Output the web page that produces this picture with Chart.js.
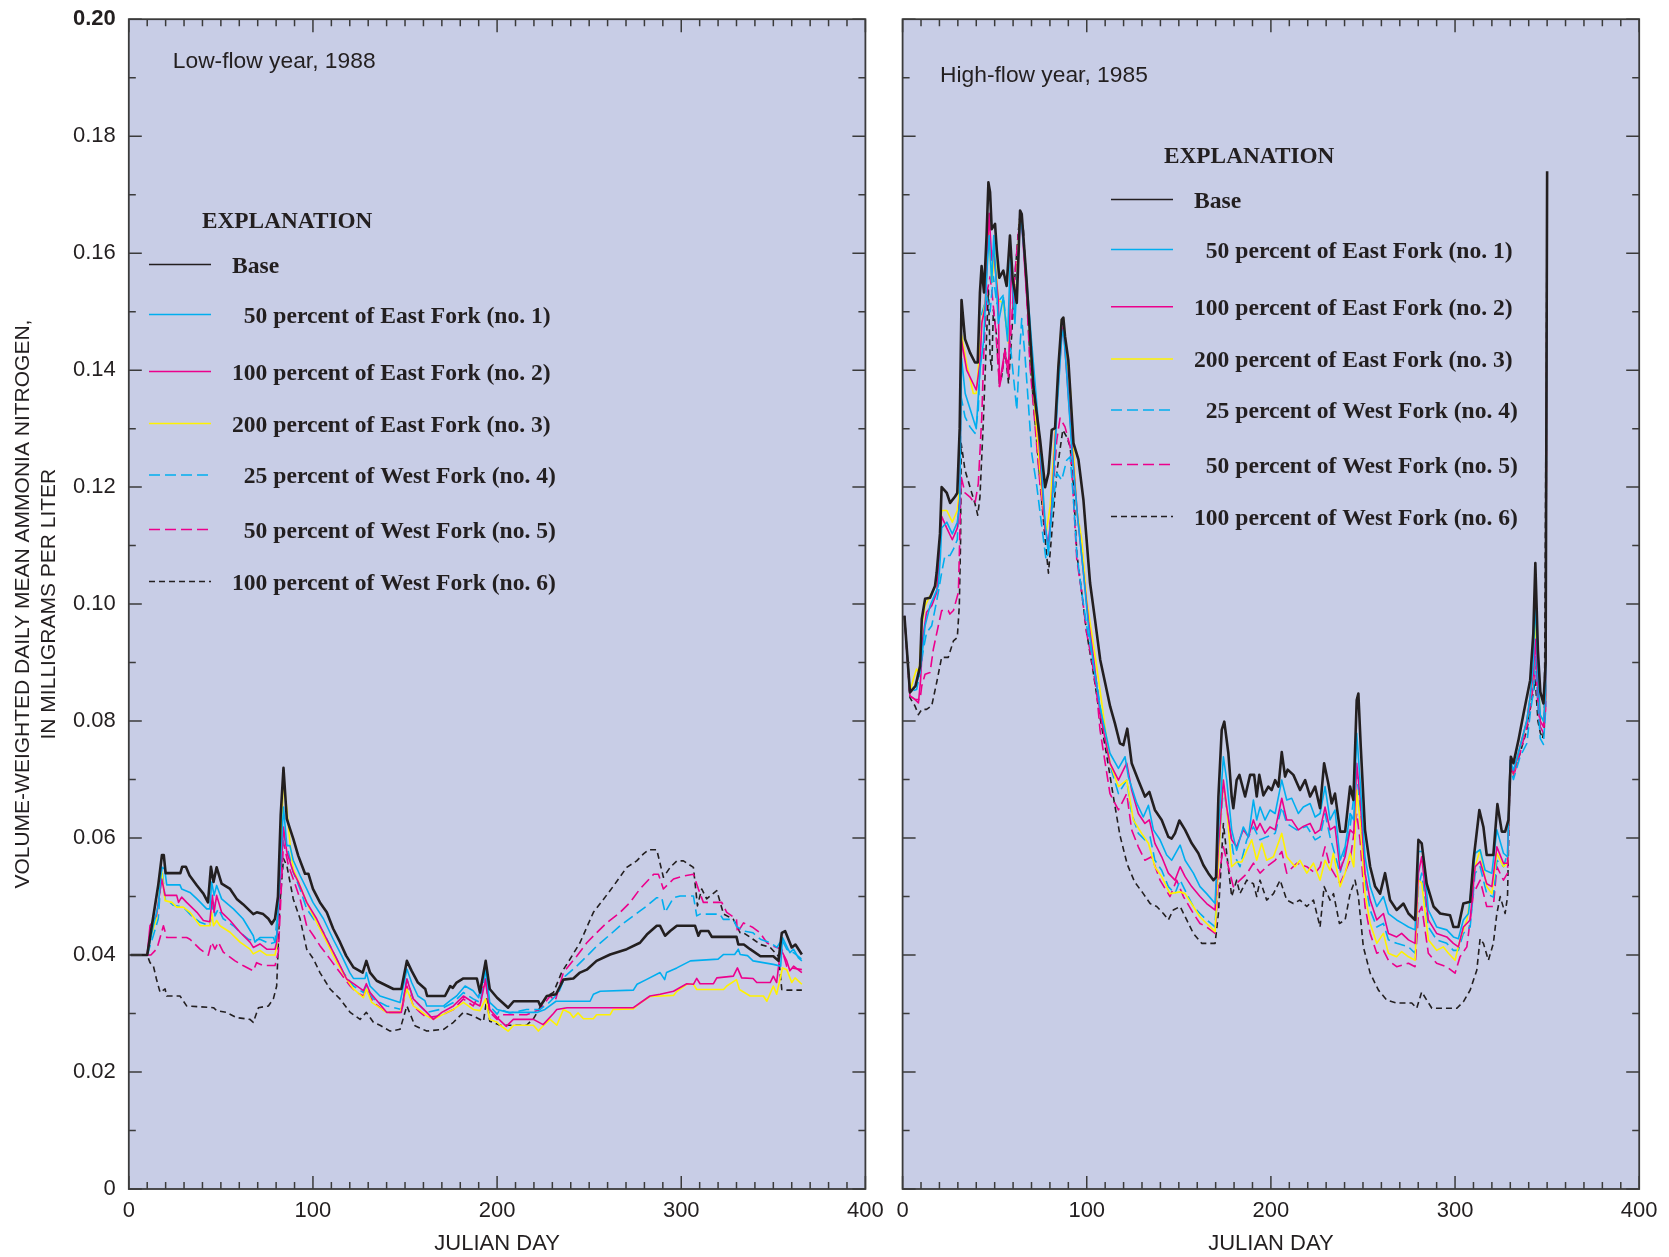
<!DOCTYPE html>
<html>
<head>
<meta charset="utf-8">
<script src="https://cdn.jsdelivr.net/npm/chart.js"></script>
<style>
  html, body { margin: 0; padding: 0; background: #fff; }
  #wrap { position: relative; width: 1669px; height: 1257px; }
  canvas { position: absolute; top: 0; }
  #left { left: 0; }
  #right { left: 890px; }
</style>
</head>
<body>
<div id="wrap">
  <canvas id="left" width="890" height="1257"></canvas>
  <canvas id="right" width="779" height="1257"></canvas>
</div>
<script>
// ---- series labels / axis labels ----
const seriesLabels = [
  'Base',
  '50 percent of East Fork (no. 1)',
  '100 percent of East Fork (no. 2)',
  '200 percent of East Fork (no. 3)',
  '25 percent of West Fork (no. 4)',
  '50 percent of West Fork (no. 5)',
  '100 percent of West Fork (no. 6)'
];
const dayTicks = [0, 100, 200, 300, 400];
const concTicks = [0, 0.02, 0.04, 0.06, 0.08, 0.10, 0.12, 0.14, 0.16, 0.18, 0.20];
const concLabels = ['0', '0.02', '0.04', '0.06', '0.08', '0.10', '0.12', '0.14', '0.16', '0.18', '0.20'];

// ---- low-flow year 1988: [julian day, mg/L] ----
const low_base = [[1,0.040],[10,0.040],[13,0.046],[16,0.052],[18,0.0571],[19,0.0571],[20,0.054],[28,0.054],[29,0.0551],[31,0.0551],[33,0.0536],[37,0.0519],[40.5,0.0505],[43,0.049],[44.6,0.0551],[46,0.0525],[47.7,0.055],[50.4,0.0522],[55,0.0513],[58.6,0.0496],[62,0.0487],[67.6,0.047],[69.5,0.0473],[73,0.047],[75.8,0.0462],[77.6,0.0453],[79.4,0.0462],[81,0.05],[82.5,0.064],[84,0.072],[85.8,0.0633],[87.5,0.0616],[89.3,0.0599],[92,0.057],[95.7,0.0539],[97.5,0.0539],[100,0.0513],[103.8,0.049],[107.5,0.0473],[111,0.0445],[114.7,0.0422],[118,0.0399],[122,0.0379],[127,0.037],[129,0.039],[131,0.037],[134.6,0.0356],[143.7,0.0342],[148,0.0342],[151,0.039],[153.6,0.0373],[157,0.0353],[161,0.0342],[162,0.033],[171.7,0.033],[174.5,0.0347],[176,0.0344],[178,0.0353],[181.7,0.036],[189,0.036],[190.7,0.0336],[193.8,0.039],[196,0.0342],[200,0.0327],[206,0.031],[209,0.0321],[222.4,0.0321],[223.5,0.0313],[227,0.033],[232,0.0333],[236,0.0358],[241.4,0.036],[245,0.037],[248.7,0.0375],[254,0.039],[261.4,0.0401],[270.4,0.041],[277.6,0.0421],[281.3,0.0435],[286.7,0.045],[288.5,0.045],[291.2,0.0433],[294,0.0441],[297.6,0.045],[307.5,0.045],[309.3,0.0433],[310.5,0.0441],[314.8,0.0441],[316.6,0.0431],[330,0.0431],[331,0.0418],[334,0.0418],[337.4,0.041],[343,0.0398],[350,0.0398],[352.8,0.039],[354.6,0.0438],[356.4,0.0441],[360,0.0413],[362,0.0418],[365.5,0.0401]];
const low_ef50 = [[1,0.040],[10,0.040],[13.3,0.045],[16,0.0485],[17.9,0.055],[19.5,0.0547],[20.6,0.052],[27.8,0.052],[28.7,0.0513],[33.2,0.0507],[37,0.0496],[42.3,0.0479],[44,0.0479],[45,0.0525],[46.3,0.0502],[47.7,0.0519],[50.4,0.0496],[56.8,0.0479],[62,0.0462],[67.6,0.0433],[68.5,0.0422],[71.2,0.043],[78.5,0.043],[79.4,0.0422],[80.3,0.0433],[84,0.0653],[85.8,0.0587],[87.5,0.0587],[89.3,0.0562],[93,0.0536],[96.6,0.0513],[100,0.049],[105.7,0.0462],[111,0.0427],[115.6,0.0399],[120,0.037],[122,0.036],[128.3,0.036],[129,0.037],[131,0.0347],[136.4,0.033],[147.3,0.0319],[151,0.0376],[153.6,0.0353],[157,0.033],[160.8,0.0322],[161.8,0.0313],[171,0.0313],[174.5,0.0322],[178,0.033],[182.6,0.0347],[187,0.0339],[190,0.0327],[193.8,0.0379],[196,0.0319],[200,0.0307],[206,0.0302],[222,0.0302],[226,0.0307],[232,0.0321],[250.5,0.0321],[252.3,0.0333],[256,0.0338],[274,0.034],[276,0.035],[281,0.0358],[288.5,0.037],[291,0.0358],[292,0.037],[297.6,0.0378],[305,0.039],[320,0.0393],[323,0.0401],[329,0.0401],[331,0.041],[332,0.0401],[336,0.0399],[339,0.039],[350,0.0384],[354,0.0381],[355,0.043],[357.3,0.0415],[359,0.0404],[361,0.041],[363.6,0.0395],[365.5,0.039]];
const low_ef100 = [[1,0.040],[10,0.040],[11.5,0.045],[15,0.0467],[17.9,0.053],[19.7,0.0502],[26,0.0502],[27,0.049],[28.7,0.0499],[31.4,0.049],[37,0.0473],[40.5,0.0459],[44,0.0457],[45.4,0.0502],[46.3,0.0473],[47.7,0.0502],[50.4,0.0473],[55,0.0459],[60.4,0.0439],[65.8,0.0422],[67.6,0.0413],[71.2,0.0419],[74.9,0.041],[79.4,0.041],[80.3,0.0422],[84,0.0619],[85.8,0.0576],[89.3,0.0542],[92,0.0525],[96.6,0.049],[102,0.0462],[107.5,0.0427],[113,0.0393],[118.3,0.0359],[122,0.0351],[127.4,0.0339],[129,0.0351],[131,0.0336],[135.6,0.0319],[140,0.0302],[148,0.0302],[151,0.0359],[154.5,0.0325],[158.2,0.0313],[161.8,0.0302],[165.4,0.029],[170,0.0302],[176.3,0.0313],[181.7,0.033],[187,0.0319],[190.7,0.0313],[193.8,0.0359],[196,0.0307],[200,0.0293],[205,0.0278],[208.8,0.029],[219.7,0.029],[225,0.0281],[230.6,0.03],[232.4,0.0307],[238,0.031],[274,0.031],[277.6,0.0318],[283,0.033],[288.5,0.0333],[295.8,0.0338],[303,0.0351],[306.6,0.035],[308.4,0.036],[310.2,0.0351],[317.5,0.0351],[319.3,0.0361],[328.3,0.0364],[330.5,0.0378],[332.8,0.0361],[339,0.036],[341,0.0353],[348.3,0.0353],[350,0.0364],[351.8,0.0353],[354,0.041],[357.3,0.039],[359,0.0373],[361,0.0381],[365.5,0.037]];
const low_ef200 = [[1,0.040],[10,0.040],[11.5,0.0427],[15,0.0462],[17.9,0.0542],[19.7,0.0493],[23.4,0.049],[26,0.0482],[29.6,0.0482],[33.2,0.0473],[38.7,0.045],[44,0.045],[45,0.0473],[46,0.045],[47.7,0.0459],[49.5,0.045],[55,0.0439],[60.4,0.0422],[65.8,0.041],[67.6,0.0402],[71.2,0.0408],[74.9,0.04],[79.4,0.04],[80.3,0.0416],[84,0.0699],[85.8,0.065],[87.5,0.0593],[89.3,0.0547],[93,0.0519],[96.6,0.049],[102,0.0456],[107.5,0.0422],[113,0.0387],[118.3,0.0359],[122,0.0342],[127.4,0.0327],[129,0.0342],[131.9,0.0319],[140,0.0302],[147.3,0.0302],[151,0.0342],[154.5,0.0313],[158.2,0.0305],[161.8,0.0296],[165.4,0.029],[171,0.0299],[176.3,0.0307],[181.7,0.0319],[187,0.0307],[190.7,0.0305],[193.8,0.0325],[196,0.029],[200,0.0285],[201.6,0.028],[206,0.027],[209,0.028],[219.7,0.028],[222.4,0.027],[225,0.0279],[228.8,0.029],[232.4,0.028],[236,0.0307],[239.6,0.0301],[241.4,0.0293],[244,0.0301],[246.9,0.0291],[252.3,0.0291],[254,0.0298],[261.4,0.0298],[263,0.0307],[274,0.0308],[277.6,0.0318],[283,0.0329],[295.8,0.0331],[297.6,0.0338],[303,0.035],[306.6,0.035],[308.4,0.0341],[323,0.0341],[324.7,0.0347],[330,0.0358],[331.6,0.0341],[337.4,0.033],[344.6,0.033],[346.5,0.0321],[350,0.0347],[351.8,0.0333],[355,0.0378],[357.3,0.0375],[360,0.0353],[361.8,0.0361],[365.5,0.035]];
const low_wf25 = [[1,0.040],[10,0.040],[13.3,0.0433],[16,0.0462],[17.9,0.055],[19.7,0.0496],[22.4,0.049],[24.2,0.0485],[29.6,0.0482],[34.1,0.0467],[38.7,0.0456],[44,0.045],[46,0.049],[46.8,0.0467],[48.6,0.0479],[51.3,0.0462],[56.8,0.045],[60.4,0.0439],[65,0.0427],[67.6,0.0425],[71.2,0.0427],[76.7,0.0419],[79.4,0.0422],[84,0.0605],[85.8,0.0587],[89.3,0.0542],[93,0.0513],[96.6,0.0479],[100.3,0.0462],[105.7,0.0439],[111,0.0405],[116.5,0.037],[122,0.0347],[127.4,0.0336],[129,0.0347],[132.8,0.0325],[140,0.0313],[148,0.0307],[151,0.0359],[154.5,0.0325],[158.2,0.0313],[161.8,0.0302],[169,0.0307],[176.3,0.0319],[181.7,0.0336],[187,0.0325],[190.7,0.0319],[193.8,0.037],[196,0.0313],[200,0.0299],[201.6,0.0307],[207,0.0301],[216,0.0307],[223.3,0.0307],[228,0.0318],[233.3,0.0335],[237,0.0364],[243.2,0.0381],[248.7,0.0398],[254,0.0415],[261.4,0.0435],[266.8,0.045],[274,0.0467],[281.3,0.0484],[286.7,0.0498],[289.4,0.0498],[291.2,0.0473],[295.8,0.0498],[299.4,0.0501],[306.6,0.0501],[308.4,0.0467],[310.2,0.047],[321,0.047],[322.8,0.0461],[328.3,0.0461],[330,0.0449],[333.8,0.0441],[339,0.0438],[343,0.0427],[348.3,0.0421],[352,0.0413],[354.6,0.0427],[357.3,0.041],[361,0.0404],[365.5,0.0393]];
const low_wf50 = [[1,0.040],[10,0.040],[12,0.040],[15.3,0.0411],[18.8,0.045],[20.6,0.043],[31.4,0.043],[33.2,0.0427],[38.7,0.041],[43.2,0.04],[45,0.0422],[46.8,0.041],[48.6,0.0422],[51.3,0.0405],[57.7,0.039],[62,0.0382],[67.6,0.0373],[69.4,0.0387],[73,0.0382],[79.4,0.0382],[81.2,0.0405],[84,0.0593],[86.7,0.0553],[89.3,0.053],[93,0.0496],[96.6,0.045],[100.3,0.0433],[103.8,0.0416],[109.3,0.0393],[114.7,0.037],[120.2,0.0347],[123.8,0.0336],[127.4,0.033],[129,0.0342],[132.8,0.0319],[140,0.0302],[148,0.0302],[151,0.0347],[154.5,0.0313],[158.2,0.0302],[161.8,0.0293],[169,0.0296],[176.3,0.0307],[181.7,0.0325],[187,0.0313],[193.8,0.0353],[196,0.0302],[200,0.029],[201.6,0.0298],[216,0.0298],[223.3,0.0307],[228.8,0.033],[231.5,0.0321],[236,0.037],[243.2,0.0398],[248.7,0.0421],[254,0.0438],[259.5,0.0455],[266.8,0.0473],[272.2,0.049],[277.6,0.0513],[285,0.0538],[287.6,0.0538],[290.3,0.0513],[295.8,0.053],[301.2,0.0535],[306.6,0.0538],[309.3,0.0513],[312,0.049],[322,0.049],[324.7,0.0473],[330,0.0461],[330.5,0.0438],[333.8,0.0455],[339,0.0447],[342.8,0.0438],[346.5,0.0421],[350,0.0415],[354.6,0.041],[357.3,0.0381],[360,0.0378],[365.5,0.0375]];
const low_wf100 = [[1,0.040],[10,0.040],[11.5,0.0387],[13.3,0.0382],[15,0.0359],[17,0.0336],[19.7,0.0342],[20.6,0.033],[27.8,0.033],[31.4,0.0313],[46,0.031],[47.7,0.0305],[53,0.0302],[58.6,0.0293],[65.8,0.029],[67.6,0.0285],[70.4,0.031],[75.8,0.0313],[78.5,0.0325],[80.3,0.0347],[82,0.0485],[84,0.0565],[85.8,0.0553],[89.3,0.0496],[93,0.0462],[96.6,0.041],[100.3,0.0393],[103.8,0.037],[109.3,0.0342],[114.7,0.0325],[120.2,0.0302],[125.6,0.029],[129,0.0302],[132.8,0.0285],[136.4,0.028],[141.9,0.027],[147.3,0.0273],[151,0.0313],[155.4,0.0279],[161.8,0.027],[171,0.0273],[176.3,0.0285],[181.7,0.0302],[187,0.0296],[192.6,0.0287],[194.4,0.0325],[196,0.0287],[200,0.0282],[201.6,0.028],[216,0.028],[219.7,0.0291],[227,0.033],[230.6,0.0336],[235,0.037],[239.6,0.0393],[245,0.0421],[252.3,0.0473],[257.7,0.0495],[263.2,0.0518],[270.4,0.055],[275.8,0.0561],[279.5,0.0573],[282.2,0.058],[286.7,0.058],[290.3,0.0533],[294,0.055],[297.6,0.0561],[301.2,0.0561],[306.6,0.055],[308.8,0.0484],[311.1,0.0513],[313.8,0.0496],[319.3,0.051],[323,0.047],[328.3,0.0461],[332,0.0438],[333.8,0.0438],[339,0.0427],[343,0.0418],[348.3,0.0413],[352.8,0.0398],[354.6,0.0341],[357.3,0.034],[365.5,0.034]];

// ---- high-flow year 1985: [julian day, mg/L] ----
const high_base = [[1,0.098],[4,0.0849],[7,0.086],[9.5,0.0894],[10.4,0.0974],[12.2,0.1009],[14.9,0.1011],[17.6,0.1031],[18.5,0.1054],[20.3,0.112],[21.2,0.12],[24,0.119],[25.8,0.1173],[28.5,0.1184],[29.7,0.119],[31,0.13],[32,0.152],[33.9,0.1453],[36.6,0.143],[39.3,0.1413],[40.8,0.1413],[42,0.1533],[42.9,0.1578],[44.2,0.1533],[45.6,0.163],[46.6,0.1721],[47.5,0.1704],[48.4,0.1641],[50.2,0.165],[51.1,0.1607],[52.5,0.1558],[54.7,0.157],[56.5,0.1544],[58.3,0.163],[59.8,0.1555],[62,0.1515],[63.8,0.1673],[64.7,0.1667],[67.4,0.155],[71,0.1372],[74.7,0.128],[77.4,0.12],[79.2,0.1224],[81,0.1298],[82.8,0.1301],[84.6,0.1406],[86.4,0.1486],[87.3,0.149],[88.2,0.1458],[90,0.1417],[92.8,0.1275],[95.5,0.1247],[98.2,0.1178],[101.8,0.1036],[104.5,0.0973],[107.3,0.0905],[110,0.0865],[112.7,0.0825],[115.3,0.0796],[118,0.0762],[119.9,0.0759],[122,0.0787],[124.4,0.0728],[128,0.0699],[131.6,0.0671],[134,0.0679],[137,0.0648],[140.7,0.0631],[144.3,0.0602],[146.1,0.0599],[147.9,0.0608],[150.3,0.063],[153.4,0.0614],[157,0.0591],[160.6,0.0574],[163.3,0.0554],[166,0.054],[168.8,0.0528],[170.2,0.0533],[171.5,0.0671],[173.3,0.0785],[174.7,0.0799],[176.9,0.0745],[178.7,0.0671],[179.6,0.0651],[181.4,0.0699],[182.9,0.0708],[186,0.0671],[188.7,0.0708],[190.9,0.0708],[192.3,0.0671],[193.7,0.0708],[195.9,0.0673],[198.6,0.0688],[200.4,0.0682],[202.3,0.0699],[204.1,0.0688],[205.9,0.0747],[207.7,0.0705],[209.1,0.0717],[212.2,0.0708],[215.8,0.0682],[218.6,0.0699],[221.3,0.0671],[224,0.0688],[226.7,0.0651],[228.9,0.0728],[231.2,0.0693],[233,0.0659],[234.8,0.0676],[237.6,0.0611],[240.3,0.0611],[243,0.0688],[244.8,0.0665],[246.6,0.0836],[247.5,0.0847],[248.8,0.0756],[251.1,0.0614],[253.9,0.0551],[256.6,0.0517],[259.3,0.0505],[262,0.054],[264.7,0.0494],[268.3,0.0477],[272,0.0488],[274.7,0.0471],[278.3,0.046],[280.1,0.0597],[281.9,0.0591],[284.6,0.0522],[288.3,0.0483],[291.9,0.0471],[297.3,0.0468],[299.1,0.0448],[301.8,0.0448],[304.5,0.0488],[308.2,0.0491],[310,0.0562],[313.2,0.0648],[315.4,0.0619],[317.2,0.0571],[320.8,0.0571],[323,0.0658],[325.4,0.0611],[327.2,0.0611],[329,0.0631],[330.3,0.0739],[331.7,0.0728],[334.4,0.0767],[337.2,0.0813],[340.8,0.087],[342.5,0.095],[343.6,0.107],[345,0.092],[346.3,0.085],[348,0.083],[349.2,0.09],[350,0.174]];
const high_ef50 = [[1,0.098],[4,0.0849],[7,0.086],[9.5,0.0883],[10.9,0.0923],[12.2,0.0963],[14.9,0.0997],[17.6,0.1017],[19.4,0.1031],[20.5,0.108],[21.2,0.113],[24,0.114],[27,0.112],[29.7,0.114],[31,0.117],[32,0.142],[34,0.136],[37,0.133],[40,0.13],[42,0.14],[44,0.145],[46,0.158],[47,0.163],[48.4,0.155],[49.5,0.163],[52,0.148],[54.7,0.1525],[57,0.145],[58.7,0.161],[61,0.148],[64,0.167],[67,0.157],[70,0.145],[74,0.13],[77.4,0.114],[79,0.109],[81,0.116],[84,0.134],[86.4,0.1455],[87.3,0.147],[89,0.14],[92,0.126],[95,0.115],[98,0.106],[101,0.096],[104,0.089],[107.2,0.0824],[112.6,0.0745],[117.2,0.0719],[120.8,0.0739],[122.6,0.0705],[127.1,0.066],[130.7,0.0636],[133.5,0.0656],[136.2,0.0614],[139.8,0.0597],[143.4,0.0571],[146.1,0.0562],[150.7,0.0588],[153.4,0.0562],[157.9,0.054],[161.5,0.0517],[165.1,0.0505],[169.7,0.0488],[171.5,0.0614],[174.2,0.0739],[176,0.0699],[178.7,0.0614],[181.4,0.0579],[185,0.0619],[187.8,0.0602],[190.5,0.0665],[192.3,0.0631],[194.1,0.0653],[196.8,0.0631],[199.5,0.0648],[202.3,0.0642],[205.9,0.0699],[208.6,0.0665],[211.3,0.0668],[214.9,0.0642],[217.6,0.0653],[221.3,0.0659],[224,0.0636],[226.7,0.0642],[229.4,0.0688],[232.1,0.0631],[234.8,0.0648],[237.6,0.0562],[240.3,0.0585],[243,0.0642],[245,0.0631],[246.6,0.0779],[248.4,0.0699],[251.1,0.0568],[253.9,0.0517],[257.5,0.0483],[261.1,0.05],[263.8,0.0471],[268.3,0.046],[271,0.0455],[274.7,0.0448],[278.3,0.0443],[280.1,0.0577],[282.5,0.0577],[285.5,0.0477],[290,0.0448],[295.5,0.0443],[299.1,0.0431],[301.8,0.0428],[304.5,0.046],[307.3,0.0471],[310.9,0.0574],[313.6,0.058],[316.3,0.0545],[320,0.054],[322.7,0.0614],[326.3,0.0574],[328.5,0.0568],[329.9,0.0733],[331.7,0.0716],[335.3,0.0756],[339,0.0802],[340.8,0.0842],[342.5,0.09],[343.6,0.101],[345,0.088],[346.3,0.081],[348,0.08],[349.2,0.085],[350,0.169]];
const high_ef100 = [[1,0.098],[4,0.0843],[6.7,0.0837],[8.6,0.0831],[9.8,0.0871],[10.9,0.094],[13,0.0986],[15.8,0.0997],[18.5,0.102],[20,0.108],[21.2,0.115],[24,0.113],[27,0.111],[29.7,0.113],[31,0.118],[32,0.145],[34.8,0.14],[40,0.1366],[42,0.1411],[43,0.148],[44.8,0.1508],[47,0.1668],[48.4,0.1588],[49.3,0.1605],[52,0.152],[52.6,0.1372],[53.8,0.14],[55.6,0.1434],[57.5,0.1389],[58.9,0.1588],[60.2,0.1508],[62,0.1548],[63.8,0.1662],[64.7,0.1651],[67.4,0.1525],[70.1,0.1434],[73.7,0.1292],[77.4,0.113],[79.2,0.11],[81,0.117],[84,0.135],[86.4,0.146],[87.3,0.1475],[89,0.14],[92,0.127],[95,0.115],[98,0.106],[101,0.097],[104,0.09],[107.2,0.0813],[112.6,0.0728],[117.2,0.0699],[121.7,0.0728],[124.4,0.0682],[128,0.0642],[131.6,0.0625],[134,0.0631],[137,0.0591],[140.7,0.0568],[144.3,0.054],[147.9,0.0528],[150.7,0.0551],[153.4,0.0534],[157,0.0517],[161.5,0.05],[165.1,0.0488],[169.7,0.0477],[171.5,0.0585],[174.2,0.0699],[176,0.0653],[178.7,0.0597],[181.4,0.0585],[185,0.0614],[187.8,0.0602],[190.5,0.0631],[192.3,0.0614],[194.1,0.0625],[196.8,0.0608],[199.5,0.0619],[202.3,0.0614],[205.9,0.0668],[208.6,0.0631],[211.3,0.0631],[214.9,0.0614],[217.6,0.062],[221.3,0.0625],[224,0.0608],[226.7,0.0614],[229.4,0.0653],[232.1,0.0614],[234.8,0.062],[237.6,0.0545],[240.3,0.0568],[243,0.0614],[245,0.0608],[246.6,0.0728],[248.4,0.0671],[251.1,0.054],[253.9,0.0494],[257.5,0.046],[261.1,0.0471],[263.8,0.0437],[268.3,0.0431],[271,0.0437],[274.7,0.0426],[278.3,0.042],[280.1,0.054],[281.9,0.0568],[285.5,0.046],[290,0.0437],[295.5,0.0431],[299.1,0.042],[301.8,0.0414],[304.5,0.0448],[308.2,0.046],[310.9,0.0551],[313.6,0.056],[317.2,0.0522],[320,0.0517],[322.7,0.0585],[326.3,0.0557],[328.5,0.0557],[329.9,0.0733],[331.7,0.071],[335.3,0.0756],[339,0.08],[340.8,0.0842],[342.5,0.088],[343.6,0.094],[345,0.086],[346.3,0.08],[348,0.079],[349.2,0.084],[350,0.169]];
const high_ef200 = [[1,0.098],[4,0.0849],[5.8,0.0871],[7.6,0.0889],[9,0.0883],[10.4,0.0963],[12.2,0.0997],[14.9,0.1014],[17.6,0.1029],[19.4,0.1043],[20.3,0.111],[21.2,0.116],[24,0.116],[27,0.114],[29.7,0.116],[31,0.12],[32,0.146],[34.8,0.1411],[38.4,0.136],[40,0.136],[43,0.148],[45,0.152],[46.6,0.165],[48.4,0.155],[50,0.16],[52,0.152],[54.7,0.1514],[57.5,0.1446],[58.9,0.1594],[61,0.1497],[63.8,0.1668],[64.7,0.166],[67.4,0.155],[70.1,0.1406],[72.9,0.1292],[75.6,0.119],[77.9,0.1121],[80.1,0.1167],[82.8,0.1292],[84.6,0.1406],[86.4,0.1486],[87.3,0.1489],[89.1,0.1429],[91,0.1372],[92.8,0.1264],[94.6,0.1161],[97.3,0.111],[100,0.1007],[102.7,0.095],[105.4,0.0893],[107.2,0.0853],[112.6,0.0728],[117.2,0.0688],[121.7,0.0699],[125.3,0.0631],[129.8,0.0608],[133.5,0.0591],[137,0.0551],[140.7,0.0534],[145.2,0.0505],[150.7,0.0508],[153.4,0.0505],[157.9,0.0483],[161.5,0.0465],[165.1,0.0454],[169.7,0.044],[171.5,0.0557],[173.8,0.0699],[176,0.0653],[178.7,0.0551],[181.4,0.0559],[184.2,0.0559],[186.9,0.0579],[189.6,0.0597],[192.3,0.0562],[195,0.0591],[197.7,0.0562],[201.4,0.0568],[205.9,0.0608],[208.6,0.0568],[213.1,0.0551],[215.8,0.0562],[219.5,0.054],[223.1,0.0557],[226.7,0.0528],[229.4,0.0562],[232.1,0.0545],[233.9,0.0574],[237.6,0.0517],[240.3,0.054],[243,0.0574],[245,0.0551],[246.6,0.0682],[248.4,0.0631],[251.1,0.0505],[253.9,0.0454],[257.5,0.042],[261.1,0.0437],[263.8,0.0403],[268.3,0.0397],[271,0.0406],[274.7,0.0397],[278.3,0.0391],[280.1,0.0528],[281.9,0.0523],[285.5,0.0426],[290,0.0408],[293.6,0.0414],[296.4,0.0403],[300,0.0391],[302.7,0.0426],[306.4,0.046],[310.9,0.0551],[313.6,0.058],[317.2,0.0517],[320,0.0505],[322.7,0.0574],[326.3,0.0551],[328.5,0.0557],[329.9,0.0733],[331.7,0.071],[335.3,0.0756],[339,0.08],[340.8,0.0842],[342.5,0.088],[343.6,0.098],[345,0.088],[346.3,0.081],[348,0.08],[349.2,0.084],[350,0.169]];
const high_wf25 = [[1,0.098],[4,0.085],[7.6,0.0854],[9.5,0.0883],[11.3,0.0923],[13,0.0951],[15.8,0.0963],[17.6,0.0991],[19.4,0.102],[21.2,0.1054],[23,0.1083],[25.7,0.1083],[27.6,0.1094],[29.7,0.111],[31,0.12],[31.8,0.1354],[33.9,0.132],[36.6,0.1303],[39.3,0.1292],[41.1,0.1332],[43,0.1497],[45.7,0.1525],[47.5,0.15],[49.3,0.156],[51.1,0.1514],[54.7,0.1528],[56.5,0.1468],[58.4,0.1446],[60.2,0.1389],[62,0.1332],[63.4,0.1423],[64.7,0.1488],[66.5,0.1423],[68.3,0.1343],[70.1,0.1258],[72.9,0.1201],[74.7,0.1155],[76.5,0.111],[77.9,0.1076],[79.2,0.1087],[81,0.1155],[83.7,0.1224],[86.4,0.1212],[89.1,0.1246],[91,0.1252],[92.8,0.1178],[94.6,0.1087],[97.3,0.1019],[100,0.0962],[102.7,0.0916],[105.4,0.0865],[108,0.081],[112.6,0.0725],[117.2,0.0676],[121.7,0.0699],[124.4,0.0642],[128,0.0608],[131.6,0.0597],[134.4,0.0602],[137,0.0562],[140.7,0.0545],[144.3,0.0517],[147.9,0.0505],[150.7,0.0528],[154.3,0.0505],[157.9,0.0483],[161.5,0.0471],[165.1,0.046],[169.7,0.0448],[171.5,0.0574],[174.2,0.0688],[176.9,0.0631],[179.6,0.0574],[183.2,0.0551],[186.9,0.0597],[190.5,0.0619],[194.1,0.0597],[197.7,0.0602],[202.3,0.0608],[205.9,0.0653],[208.6,0.0625],[214,0.0614],[219.5,0.062],[224,0.0597],[226.7,0.0602],[229.4,0.0642],[232.1,0.0602],[237.6,0.054],[243,0.0619],[246.6,0.0711],[248.4,0.0653],[251.1,0.0528],[253.9,0.0477],[257.5,0.0448],[261.1,0.0454],[263.8,0.0426],[268.3,0.042],[274.7,0.0414],[278.3,0.0403],[280.1,0.0517],[281.9,0.054],[285.5,0.0448],[290,0.0426],[295.5,0.042],[299.1,0.0408],[301.8,0.0408],[304.5,0.0437],[308.2,0.0448],[310.9,0.054],[313.6,0.0551],[317.2,0.0505],[320.8,0.0499],[322.7,0.0562],[326.3,0.0551],[328.5,0.0574],[329.9,0.0722],[331.7,0.07],[335.3,0.0739],[339,0.0762],[340.8,0.0813],[342.5,0.085],[343.6,0.091],[345,0.083],[346.3,0.077],[348,0.076],[349.2,0.082],[350,0.169]];
const high_wf50 = [[1,0.098],[4,0.0843],[6.7,0.0837],[9.5,0.0837],[10.4,0.086],[12.2,0.088],[14.9,0.0883],[16.7,0.0923],[19.4,0.0963],[21.2,0.0989],[24.8,0.0989],[25.7,0.0983],[27.6,0.0989],[30.3,0.102],[31,0.111],[31.8,0.1218],[33.9,0.119],[36.6,0.1183],[39.3,0.1172],[41.1,0.1206],[43,0.132],[44.2,0.144],[45.7,0.1531],[47.5,0.156],[48.4,0.1537],[50.5,0.147],[52.6,0.1372],[53.8,0.1389],[55.6,0.1434],[56.5,0.1411],[58,0.1423],[60.2,0.1537],[62.9,0.1634],[64.2,0.1654],[65.6,0.1628],[67.4,0.1525],[69.2,0.1406],[72,0.1303],[74.7,0.1201],[77.4,0.1127],[79.2,0.1098],[81,0.1167],[83.7,0.128],[85.5,0.1318],[88.2,0.1303],[91,0.1269],[92.4,0.1201],[94.6,0.1076],[97.3,0.1019],[100,0.095],[102.7,0.0905],[105.4,0.0848],[107.2,0.0785],[112.6,0.0676],[117.2,0.0648],[121.7,0.0676],[124.4,0.0614],[128,0.0585],[131.6,0.0562],[135.2,0.0568],[139.8,0.0528],[145.2,0.05],[148.8,0.0528],[152.5,0.05],[157.9,0.0471],[161.5,0.0454],[165.1,0.0448],[169.7,0.0437],[171.5,0.0528],[174.2,0.0585],[176.9,0.0551],[179.6,0.0517],[183.2,0.0528],[186.9,0.0539],[190.5,0.0557],[194.1,0.054],[197.7,0.0551],[202.3,0.0562],[205.9,0.0577],[208.6,0.054],[214,0.0557],[219.5,0.0551],[224,0.054],[226.7,0.0551],[229.4,0.0585],[232.1,0.0551],[237.6,0.0522],[243,0.0562],[246.6,0.0642],[248.4,0.0597],[251.1,0.0483],[253.9,0.0437],[257.5,0.0403],[261.1,0.0408],[263.8,0.0391],[268.3,0.038],[274.7,0.0386],[278.3,0.038],[280.1,0.0471],[281.9,0.0483],[285.5,0.0403],[290,0.0386],[295.5,0.038],[300,0.0369],[302.7,0.0397],[306.4,0.0414],[310,0.0505],[313.6,0.0528],[317.2,0.0483],[320.8,0.0483],[322.7,0.0551],[326.3,0.0528],[328.5,0.054],[329.9,0.0722],[331.7,0.0705],[335.3,0.0745],[339,0.079],[340.8,0.0825],[342.5,0.086],[343.6,0.09],[345,0.083],[346.3,0.079],[348,0.078],[349.2,0.082],[350,0.169]];
const high_wf100 = [[1,0.098],[4,0.084],[6.7,0.0826],[8.6,0.0811],[10.4,0.082],[13,0.082],[15.8,0.0826],[18.5,0.0866],[21.2,0.0909],[24.8,0.0909],[27.6,0.0937],[29.7,0.0943],[30.8,0.0997],[31.5,0.111],[31.8,0.1275],[33.9,0.1229],[36.6,0.12],[39.3,0.1172],[40.8,0.1152],[42,0.1183],[43.8,0.1309],[45.3,0.1434],[46.6,0.1537],[47.5,0.1423],[48.4,0.14],[49.3,0.1503],[51,0.146],[52.6,0.1377],[53.8,0.1389],[55.6,0.1437],[57.5,0.1377],[59.3,0.1463],[61,0.156],[62.9,0.164],[63.8,0.1665],[65.6,0.164],[67.4,0.1537],[69.2,0.1417],[72,0.1309],[74.7,0.1207],[77.4,0.111],[79.2,0.1053],[81,0.1121],[83.7,0.1224],[87,0.1298],[89.1,0.1286],[91,0.1269],[92.8,0.1201],[94.6,0.1087],[97.3,0.1019],[100,0.095],[103.6,0.0882],[107.3,0.0805],[110.9,0.074],[114.5,0.067],[118,0.0605],[122,0.0555],[126,0.0525],[130.7,0.0505],[134.4,0.0488],[138,0.0483],[141.6,0.0471],[144.3,0.046],[147,0.0477],[150.7,0.0483],[154.3,0.046],[157.9,0.0437],[162.4,0.042],[169.7,0.042],[171.5,0.0471],[174.2,0.0625],[176,0.0574],[178.7,0.05],[181.4,0.0528],[183.2,0.0505],[186.9,0.0528],[190.5,0.0522],[192.3,0.05],[194.1,0.0528],[197.7,0.0494],[201.4,0.0505],[205,0.0528],[208.6,0.0494],[212.2,0.0488],[215.8,0.0494],[219.5,0.0483],[223.1,0.0494],[226.7,0.0448],[228.9,0.0517],[232.1,0.0494],[234,0.0505],[237.2,0.0454],[240.3,0.046],[243,0.0505],[245.7,0.0528],[247.5,0.05],[250.2,0.0414],[253.9,0.0369],[258.4,0.034],[262.9,0.0323],[268.3,0.0318],[276.5,0.0318],[279.2,0.0309],[281.9,0.0337],[284.6,0.0323],[287.4,0.0309],[301,0.0309],[304.5,0.032],[308.2,0.034],[311.8,0.0374],[313.6,0.0428],[315.4,0.042],[318.1,0.0391],[320.8,0.042],[322.7,0.0471],[324.5,0.05],[327.2,0.0471],[328.5,0.05],[329.9,0.0728],[331.7,0.071],[335.3,0.0745],[339,0.0785],[340.8,0.082],[342.5,0.085],[343.6,0.087],[345,0.08],[346.3,0.078],[347.5,0.077],[348.5,0.079],[350,0.169]];

const lowSeries = [low_base, low_ef50, low_ef100, low_ef200, low_wf25, low_wf50, low_wf100];
const highSeries = [high_base, high_ef50, high_ef100, high_ef200, high_wf25, high_wf50, high_wf100];

// ---- styles ----
const INK = '#231f20';
const FRAME = '#3b3b3b';
const PLOT_BG = '#c8cde6';
const seriesColors = [INK, '#00aeef', '#ec008c', '#fff200', '#00aeef', '#ec008c', INK];
const seriesDash = [[], [], [], [], [11, 5], [11, 5], [6, 4]];
const seriesWidths = [2.6, 1.6, 1.6, 1.6, 1.6, 1.6, 1.6];
const SANS = '"Liberation Sans", Arial, Helvetica, sans-serif';
const SERIF = '"Liberation Serif", "Times New Roman", serif';

// plot frame, inward ticks, panel note and the EXPLANATION block
const panelDeco = {
  id: 'panelDeco',
  beforeDatasetsDraw(chart) {
    const { ctx, chartArea: a } = chart;
    ctx.save();
    ctx.fillStyle = PLOT_BG;
    ctx.fillRect(a.left, a.top, a.width, a.height);
    ctx.restore();
  },
  afterDraw(chart, args, opts) {
    const { ctx, chartArea: a, scales: { x, y } } = chart;
    ctx.save();
    ctx.strokeStyle = FRAME;
    ctx.lineWidth = 1.5;
    ctx.beginPath();
    for (let d = 0; d <= 400; d += 10) {
      const px = x.getPixelForValue(d);
      const len = d % 100 === 0 ? 13 : 7;
      ctx.moveTo(px, a.bottom); ctx.lineTo(px, a.bottom - len);
      ctx.moveTo(px, a.top); ctx.lineTo(px, a.top + len);
    }
    for (let i = 0; i <= 20; i++) {
      const py = y.getPixelForValue(i / 100);
      const len = i % 2 === 0 ? 13 : 7;
      ctx.moveTo(a.left, py); ctx.lineTo(a.left + len, py);
      ctx.moveTo(a.right, py); ctx.lineTo(a.right - len, py);
    }
    ctx.stroke();
    ctx.lineWidth = 1.8;
    ctx.strokeRect(a.left, a.top, a.width, a.height);

    ctx.fillStyle = INK;
    ctx.textBaseline = 'middle';
    ctx.font = '22.8px ' + SANS;
    ctx.fillText(opts.note, a.left + opts.noteX, a.top + opts.noteY);

    const lx = a.left + opts.legendX;
    ctx.font = 'bold 23.3px ' + SERIF;
    ctx.fillText('EXPLANATION', lx + 53, a.top + opts.titleY);
    ctx.font = 'bold 23.6px ' + SERIF;
    const digit = ctx.measureText('0').width;
    chart.data.datasets.forEach((ds, i) => {
      const ry = a.top + opts.rows[i];
      ctx.save();
      ctx.strokeStyle = ds.borderColor;
      ctx.setLineDash(ds.borderDash);
      ctx.lineWidth = 1.5;
      ctx.beginPath();
      ctx.moveTo(lx, ry - 2);
      ctx.lineTo(lx + 62, ry - 2);
      ctx.stroke();
      ctx.restore();
      const shift = /^\d\d\s/.test(ds.label) ? digit : 0;
      ctx.fillText(ds.label, lx + 83 + shift, ry);
    });
    ctx.restore();
  }
};

function buildSets(series) {
  return series.map((pts, i) => ({
    label: seriesLabels[i],
    data: pts.map(([d, v]) => ({ x: d, y: v })),
    borderColor: seriesColors[i],
    borderDash: seriesDash[i],
    borderWidth: seriesWidths[i],
    borderJoinStyle: 'round',
    pointRadius: 0,
    tension: 0,
    fill: false
  }));
}

function makeOptions(isLeft, deco) {
  const tickFont = { family: SANS, size: 22 };
  return {
    responsive: false,
    animation: false,
    devicePixelRatio: 1,
    layout: { padding: isLeft
      ? { left: 0, right: 24.6, top: 19.2, bottom: 0 }
      : { left: 12.6, right: 29.8, top: 19.2, bottom: 0 } },
    plugins: { legend: { display: false }, tooltip: { enabled: false }, panelDeco: deco },
    scales: {
      x: {
        type: 'linear', min: 0, max: 400,
        grid: { display: false, drawTicks: false },
        border: { display: false },
        afterBuildTicks: s => { s.ticks = dayTicks.map(v => ({ value: v })); },
        ticks: { padding: 9, color: INK, font: tickFont, maxRotation: 0, autoSkip: false },
        title: { display: true, text: 'JULIAN DAY', color: INK, font: { family: SANS, size: 22 }, padding: { top: 0, bottom: 0 } },
        afterFit: s => { s.height = 68; s.paddingLeft = 0; s.paddingRight = 0; }
      },
      y: {
        type: 'linear', min: 0, max: 0.2,
        display: isLeft,
        grid: { display: false, drawTicks: false },
        border: { display: false },
        afterBuildTicks: s => { s.ticks = concTicks.map(v => ({ value: v })); },
        ticks: {
          padding: 13, color: INK, autoSkip: false,
          font: c => ({ family: SANS, size: 22, weight: c.index === concTicks.length - 1 ? 'bold' : 'normal' }),
          callback: (v, i) => concLabels[i]
        },
        title: {
          display: true,
          text: ['VOLUME-WEIGHTED DAILY MEAN AMMONIA NITROGEN,', 'IN MILLIGRAMS PER LITER'],
          color: INK,
          font: { family: SANS, size: 21, lineHeight: 26 / 21 },
          padding: { top: 10, bottom: 0 }
        },
        afterFit: s => { s.width = isLeft ? 128.8 : 0; s.paddingTop = 0; s.paddingBottom = 0; }
      }
    }
  };
}

new Chart(document.getElementById('left'), {
  type: 'line',
  data: { datasets: buildSets(lowSeries) },
  options: makeOptions(true, {
    note: 'Low-flow year, 1988', noteX: 44, noteY: 43,
    legendX: 20.2, titleY: 202.5,
    rows: [247.3, 297.3, 354.3, 406.3, 457.8, 512.3, 564.3]
  }),
  plugins: [panelDeco]
});

new Chart(document.getElementById('right'), {
  type: 'line',
  data: { datasets: buildSets(highSeries) },
  options: makeOptions(false, {
    note: 'High-flow year, 1985', noteX: 37.4, noteY: 56.3,
    legendX: 208.4, titleY: 137.5,
    rows: [182.3, 232.3, 289.6, 341.8, 392.9, 447.3, 499.3]
  }),
  plugins: [panelDeco]
});
</script>
</body>
</html>
